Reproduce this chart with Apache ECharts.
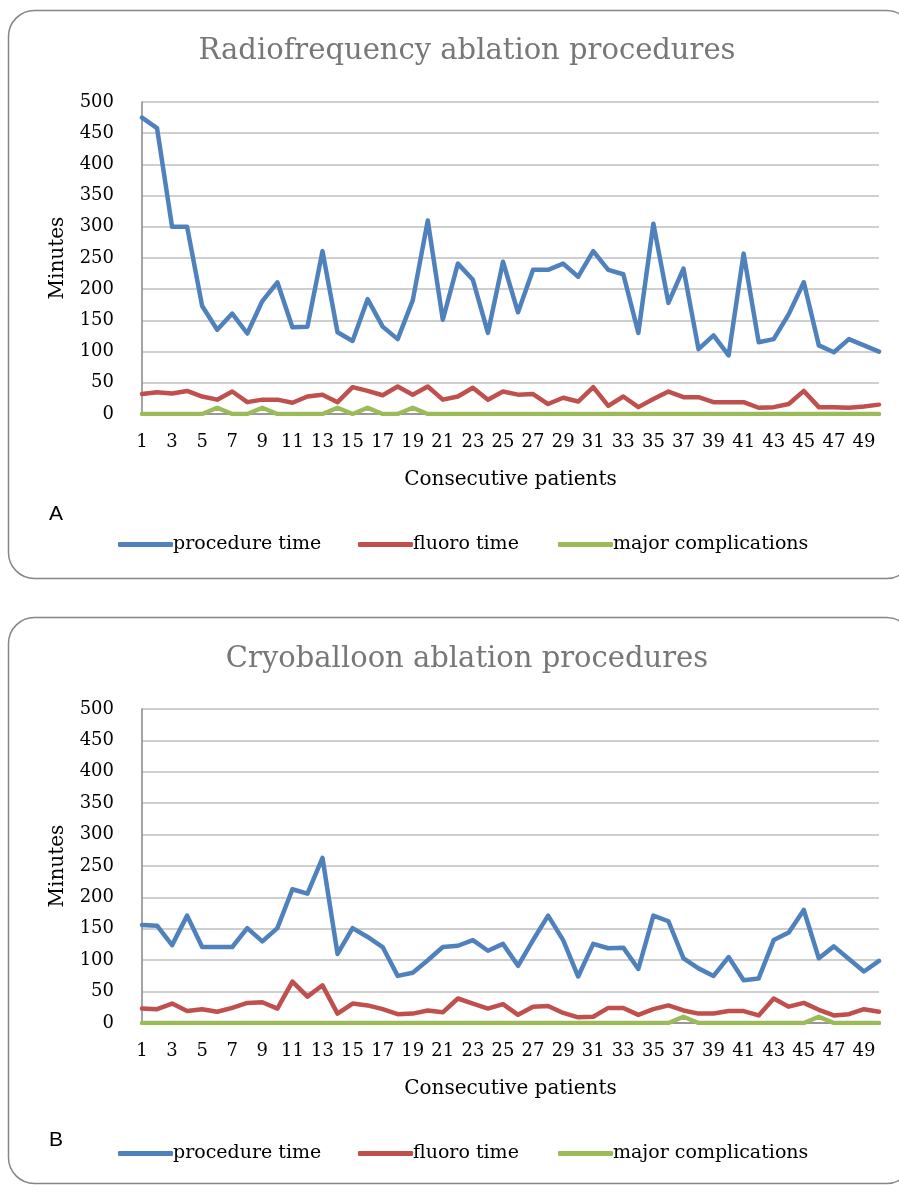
<!DOCTYPE html>
<html>
<head>
<meta charset="utf-8">
<script src="https://cdn.jsdelivr.net/npm/echarts@6/dist/echarts.min.js"></script>
<style>
html,body{margin:0;padding:0;background:#fff;}
#c{width:899px;height:1185px;}
</style>
</head>
<body>
<div id="c"></div>
<script>
const patients = Array.from({length: 50}, (_, i) => String(i + 1));
const yTicks = [0, 50, 100, 150, 200, 250, 300, 350, 400, 450, 500];

const rfProcedure = [475,458,300,300,173,135,161,129,181,211,139,140,261,131,117,184,140,120,182,310,
  151,241,215,130,244,163,231,231,241,220,261,231,224,130,305,178,233,104,126,94,
  257,115,120,160,211,110,99,120,110,100];
const rfFluoro = [32,35,33,37,28,23,36,19,23,23,18,28,31,19,43,37,30,44,31,44,
  23,28,42,23,36,31,32,16,26,20,43,13,28,11,24,36,27,27,19,19,
  19,10,11,16,37,11,11,10,12,15];
const rfComplications = [0,0,0,0,0,10,0,0,10,0,0,0,0,10,0,10,0,0,10,0,
  0,0,0,0,0,0,0,0,0,0,0,0,0,0,0,0,0,0,0,0,
  0,0,0,0,0,0,0,0,0,0];

const cryoProcedure = [156,155,124,171,121,121,121,151,130,151,213,206,263,110,151,137,121,75,80,100,
  121,123,132,115,126,91,132,171,132,74,126,119,120,86,171,162,103,87,75,105,
  68,71,132,144,180,103,122,102,82,99];
const cryoFluoro = [23,22,31,19,22,18,24,32,33,23,66,42,60,15,31,28,22,14,15,20,
  17,39,31,23,30,13,26,27,16,9,10,24,24,13,22,28,20,15,15,19,
  19,12,39,26,32,21,12,14,22,18];
const cryoComplications = [0,0,0,0,0,0,0,0,0,0,0,0,0,0,0,0,0,0,0,0,
  0,0,0,0,0,0,0,0,0,0,0,0,0,0,0,0,10,0,0,0,
  0,0,0,0,0,10,0,0,0,0];

const seriesNames = ['procedure time', 'fluoro time', 'major complications'];
const colors = ['#4f81bd', '#c0504d', '#9bbb59'];

const SERIF = '"DejaVu Serif", "Liberation Serif", serif';
const chart = echarts.init(document.getElementById('c'));

function makeX(gi) {
  return {
    type: 'category', gridIndex: gi, data: patients, boundaryGap: false,
    axisLine: {lineStyle: {color: '#868686', width: 1.5}},
    axisTick: {show: false},
    axisLabel: {interval: 1, color: '#000', fontFamily: SERIF, fontSize: 18, margin: 19},
    name: 'Consecutive patients', nameLocation: 'middle', nameGap: 56,
    nameTextStyle: {color: '#000', fontFamily: SERIF, fontSize: 20}
  };
}
function makeY(gi) {
  return {
    type: 'value', gridIndex: gi, min: yTicks[0], max: yTicks[yTicks.length - 1], interval: 50,
    axisLine: {show: true, lineStyle: {color: '#868686', width: 1.5}},
    axisTick: {show: false},
    splitLine: {lineStyle: {color: '#bfbfbf', width: 1.5}},
    axisLabel: {color: '#000', fontFamily: SERIF, fontSize: 18, margin: 28},
    name: 'Minutes', nameLocation: 'middle', nameGap: 74, nameRotate: 90,
    nameTextStyle: {color: '#000', fontFamily: SERIF, fontSize: 20}
  };
}
function makeSeries(gi, arrs) {
  return arrs.map((d, k) => ({
    name: seriesNames[k], type: 'line', xAxisIndex: gi, yAxisIndex: gi, data: d,
    symbol: 'none', z: 10 - k, color: colors[k],
    lineStyle: {color: colors[k], width: 4.5, cap: 'round', join: 'round'}
  }));
}
function makeLegends(top) {
  const lefts = [118, 358, 558];
  return seriesNames.map((n, k) => ({
    data: [n], left: lefts[k], top: top, padding: 0, icon: 'roundRect', itemWidth: 55, itemHeight: 5,
    textStyle: {color: '#000', fontFamily: SERIF, fontSize: 19, padding: [0, 0, 0, -5]}
  }));
}

chart.setOption({
  animation: false,
  title: [
    {text: 'Radiofrequency ablation procedures', left: 462, top: 32, textAlign: 'center',
     textStyle: {color: '#777777', fontFamily: SERIF, fontSize: 29, fontWeight: 'normal'}},
    {text: 'Cryoballoon ablation procedures', left: 462, top: 640, textAlign: 'center',
     textStyle: {color: '#777777', fontFamily: SERIF, fontSize: 29, fontWeight: 'normal'}}
  ],
  grid: [
    {left: 142, top: 102, width: 737, height: 312},
    {left: 142, top: 709, width: 737, height: 314}
  ],
  xAxis: [makeX(0), makeX(1)],
  yAxis: [makeY(0), makeY(1)],
  legend: makeLegends(535).concat(makeLegends(1144)),
  series: makeSeries(0, [rfProcedure, rfFluoro, rfComplications])
    .concat(makeSeries(1, [cryoProcedure, cryoFluoro, cryoComplications])),
  graphic: [
    {type: 'rect', shape: {x: 8.5, y: 10.5, width: 904, height: 568, r: 26},
     style: {fill: 'none', stroke: '#868686', lineWidth: 1.5}, z: -1, silent: true},
    {type: 'rect', shape: {x: 8.5, y: 617.5, width: 904, height: 566, r: 26},
     style: {fill: 'none', stroke: '#868686', lineWidth: 1.5}, z: -1, silent: true},
    {type: 'text', left: 49, top: 504,
     style: {text: 'A', fill: '#000', font: '21px "Liberation Sans", sans-serif'}},
    {type: 'text', left: 49, top: 1130,
     style: {text: 'B', fill: '#000', font: '21px "Liberation Sans", sans-serif'}}
  ]
});
</script>
</body>
</html>
